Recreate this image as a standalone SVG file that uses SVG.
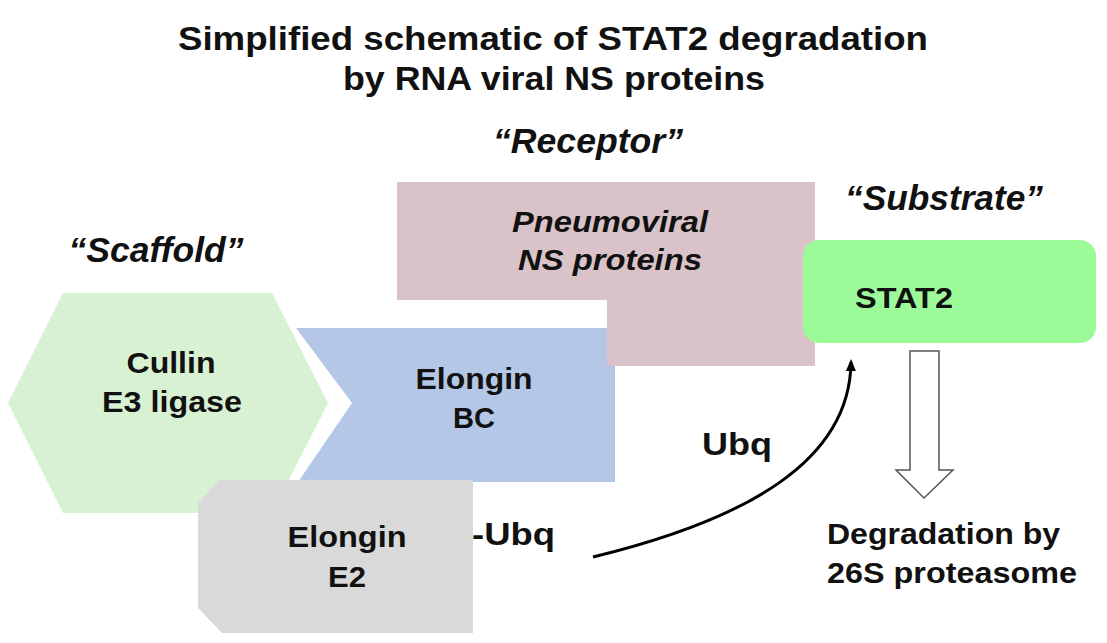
<svg xmlns="http://www.w3.org/2000/svg" width="1107" height="643" viewBox="0 0 1107 643">
<style>
text{font-family:"Liberation Sans",Arial,sans-serif;font-weight:bold;fill:#111}
.t{font-size:34px}
.lab{font-size:35px;font-style:italic}
.in{font-size:30px}
.it{font-style:italic}
.ub{font-size:32px}
.c{text-anchor:middle}
</style>
<defs>
<marker id="ah" markerWidth="12" markerHeight="12" refX="9" refY="5" orient="auto" markerUnits="userSpaceOnUse" viewBox="0 0 12 10">
<path d="M0,0 L12,5 L0,10 Z" fill="#000"/>
</marker>
</defs>
<rect width="1107" height="643" fill="#fff"/>
<g id="title">
<text class="t c" x="553" y="50" textLength="750" lengthAdjust="spacingAndGlyphs">Simplified schematic of STAT2 degradation</text>
<text class="t c" x="554" y="90" textLength="422" lengthAdjust="spacingAndGlyphs">by RNA viral NS proteins</text>
</g>
<g id="cullin">
<polygon points="63,293 272,293 328,403 272,513 63,513 8,403" fill="#d9f1d3"/>
<text class="in c" x="171" y="373" textLength="89" lengthAdjust="spacingAndGlyphs">Cullin</text>
<text class="in c" x="172" y="412" textLength="140" lengthAdjust="spacingAndGlyphs">E3 ligase</text>
</g>
<g id="elonginBC">
<polygon points="296,328 615,328 615,482 298,482 352,403" fill="#b4c7e7"/>
<text class="in c" x="474" y="389" textLength="117" lengthAdjust="spacingAndGlyphs">Elongin</text>
<text class="in c" x="474" y="428" textLength="42" lengthAdjust="spacingAndGlyphs">BC</text>
</g>
<g id="ns">
<polygon points="397,182 815,182 815,366 607,366 607,300 397,300" fill="#dac3c8"/>
<text class="in it c" x="610" y="232" textLength="196" lengthAdjust="spacingAndGlyphs">Pneumoviral</text>
<text class="in it c" x="610" y="270" textLength="184" lengthAdjust="spacingAndGlyphs">NS proteins</text>
</g>
<g id="elonginE2">
<polygon points="220,480 473,480 473,633 222,633 198,608 198,503" fill="#d9d9d9"/>
<text class="in c" x="347" y="547" textLength="119" lengthAdjust="spacingAndGlyphs">Elongin</text>
<text class="in c" x="347" y="587" textLength="38" lengthAdjust="spacingAndGlyphs">E2</text>
</g>
<g id="stat2">
<rect x="803" y="240" width="293" height="103" rx="16" fill="#9cfb98"/>
<text class="in c" x="904" y="308" textLength="98" lengthAdjust="spacingAndGlyphs">STAT2</text>
</g>
<g id="labels">
<text class="lab c" x="588" y="153" textLength="190" lengthAdjust="spacingAndGlyphs">“Receptor”</text>
<text class="lab c" x="156" y="262" textLength="175" lengthAdjust="spacingAndGlyphs">“Scaffold”</text>
<text class="lab c" x="944" y="210" textLength="198" lengthAdjust="spacingAndGlyphs">“Substrate”</text>
<text class="ub" x="472" y="545" textLength="83" lengthAdjust="spacingAndGlyphs">-Ubq</text>
<text class="ub" x="702" y="455" textLength="70" lengthAdjust="spacingAndGlyphs">Ubq</text>
<text class="in" x="827" y="544" textLength="233" lengthAdjust="spacingAndGlyphs">Degradation by</text>
<text class="in" x="827" y="583" textLength="250" lengthAdjust="spacingAndGlyphs">26S proteasome</text>
</g>
<g id="connectors">
<path d="M593,557 C745,520 850,462 851,362" fill="none" stroke="#000" stroke-width="3" marker-end="url(#ah)"/>
<polygon points="910,351 939,351 939,470 953,470 924,498 896,470 910,470" fill="#fff" stroke="#555" stroke-width="1.5"/>
</g>
</svg>
